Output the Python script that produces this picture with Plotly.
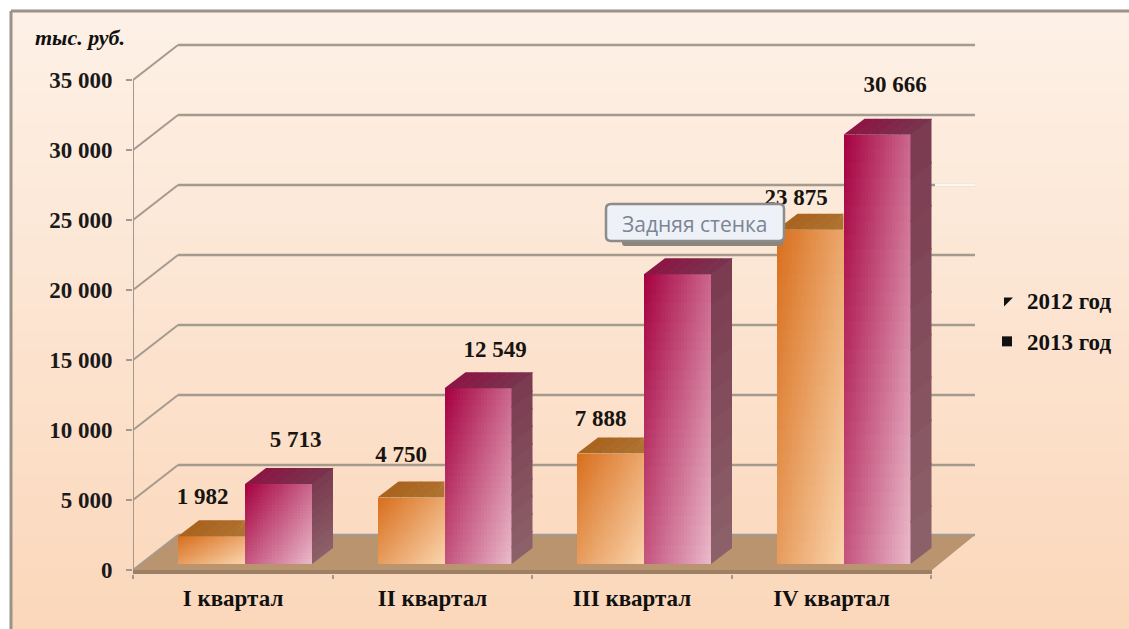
import plotly.graph_objects as go

# ---- data ----
quarters = ["I квартал", "II квартал", "III квартал", "IV квартал"]
values_2012 = [1982, 4750, 7888, 23875]
values_2013 = [5713, 12549, 20700, 30666]
labels_2012 = ["1 982", "4 750", "7 888", "23 875"]
labels_2013 = ["5 713", "12 549", "", "30 666"]
y_ticks = [0, 5000, 10000, 15000, 20000, 25000, 30000, 35000]
y_tick_text = ["0", "5 000", "10 000", "15 000", "20 000", "25 000", "30 000", "35 000"]
series_names = ["2012 год", "2013 год"]

# ---- geometry of the pseudo-3D scene (pixels) ----
W, H = 1129, 629
PL, PR, PT, PB = 133, 975, 40, 574      # plot area
Y0 = 570                                # pixel of value 0
PX_PER_UNIT = 0.014
CAT0, CAT_STEP = 233, 199.5             # pixel of category 0, pixels per category
BAR_W = 67
BAR_BASE_PX = 6                         # bar bottoms sit above the axis line
BAR_DX, BAR_DY = 21, 16                 # bar depth
WALL_DX, WALL_DY = 45, 35               # wall depth
BAR_OFF = [-21.5, 45.5]                 # bar centre relative to category pixel

def ux(dpx):
    return dpx / CAT_STEP

def uy(dpy):
    return dpy / PX_PER_UNIT

def dx(px):
    return (px - CAT0) / CAT_STEP

def dy(py):
    return (Y0 - py) / PX_PER_UNIT

def paper_x(px):
    return (px - PL) / (PR - PL)

def paper_y(py):
    return (PB - py) / (PB - PT)

def mix(a, b, t):
    t = max(0, min(1, t))
    return "rgb(%d,%d,%d)" % tuple(round(a[i] + (b[i] - a[i]) * t) for i in range(3))

ORANGE = ((216, 110, 28), (250, 212, 172))
MAROON = ((165, 0, 63), (234, 186, 202))
TOP = [((168, 98, 30), (176, 116, 50)), ((140, 20, 68), (120, 52, 78))]
SIDE = [((150, 90, 40), (170, 120, 70)), ((122, 58, 80), (140, 98, 106))]
base_val = uy(BAR_BASE_PX)

fig = go.Figure()

def add_bars(vals, off, grad):
    xs, bases, hs, ws, cols = [], [], [], [], []
    n_c, n_r = 22, 30
    for i, v in enumerate(vals):
        cx = i + ux(off)
        left = cx - ux(BAR_W) / 2
        for c in range(n_c):
            cw = ux(BAR_W) / n_c
            for r in range(n_r):
                rh = v / n_r
                # overlap neighbouring cells a little to hide seams
                wid = cw + (ux(0.5) if c < n_c - 1 else 0)
                hei = rh + (uy(0.5) if r < n_r - 1 else 0)
                xs.append(left + c * cw + wid / 2)
                bases.append(base_val + v - (r + 1) * rh - (uy(0.5) if r < n_r - 1 else 0))
                hs.append(hei)
                ws.append(wid)
                u_ = (c + 0.5) / n_c
                v_ = (r + 0.5) / n_r
                cols.append(mix(grad[0], grad[1], 0.55 * u_ + 0.45 * v_))
    fig.add_trace(go.Bar(x=xs, y=hs, base=bases, width=ws, marker=dict(color=cols, line=dict(width=0)),
                         showlegend=False, hoverinfo="skip"))

def poly(xs, ys, color):
    fig.add_trace(go.Scatter(x=xs, y=ys, mode="lines", fill="toself", fillcolor=color,
                             line=dict(width=0), showlegend=False, hoverinfo="skip"))

def add_faces(vals, off, s):
    for i, v in enumerate(vals):
        cx = i + ux(off)
        l, rr = cx - ux(BAR_W) / 2, cx + ux(BAR_W) / 2
        top = base_val + v
        if s == 1:
            # painted from the bottom up, each band reaching over the seam below it
            n = 10
            for k in reversed(range(n)):
                a = top - v * k / n
                b = top - v * (k + 1) / n
                if k < n - 1:
                    b -= uy(2)
                poly([rr, rr + ux(BAR_DX), rr + ux(BAR_DX), rr],
                     [a, a + uy(BAR_DY), b + uy(BAR_DY), b],
                     mix(SIDE[s][0], SIDE[s][1], (k + 0.5) / n))
        n = 6
        for k in range(n):
            x_a = l + (rr - l) * k / n
            x_b = l + (rr - l) * (k + 1) / n + ux(0.8)
            xs = [x_a, x_a + ux(BAR_DX), x_b + ux(BAR_DX), x_b]
            ys = [top, top + uy(BAR_DY), top + uy(BAR_DY), top]
            if s == 0:
                # the 2012 top face stops where the 2013 bar begins
                xs = [min(q, rr) for q in xs]
            poly(xs, ys, mix(TOP[s][0], TOP[s][1], (k + 0.5) / n))

add_bars(values_2012, BAR_OFF[0], ORANGE)
add_bars(values_2013, BAR_OFF[1], MAROON)
add_faces(values_2012, BAR_OFF[0], 0)
add_faces(values_2013, BAR_OFF[1], 1)

# data labels (real text, anchored on bar values)
LABEL_OFF_2012 = [(-9, 38), (-10, 41), (-10, 33), (-14, 31)]
LABEL_OFF_2013 = [(17, 43), (17, 37), (0, 0), (18, 48)]
for vals, off, labs, offs in [(values_2012, BAR_OFF[0], labels_2012, LABEL_OFF_2012),
                              (values_2013, BAR_OFF[1], labels_2013, LABEL_OFF_2013)]:
    fig.add_trace(go.Scatter(
        x=[i + ux(off + offs[i][0]) for i in range(4)],
        y=[base_val + v + uy(offs[i][1]) for i, v in enumerate(vals)],
        text=labs, mode="text", textposition="middle center", showlegend=False, hoverinfo="skip",
        textfont=dict(family="Liberation Serif", size=23, color="#181410", weight="bold")))

# legend entries
for name, sym, size in zip(series_names, ["triangle-nw", "square"], [10, 10]):
    fig.add_trace(go.Scatter(x=[None], y=[None], mode="markers", name=name, legendgroup=name,
                             marker=dict(symbol=sym, size=size, color="#111111")))

# ---- shapes ----
shapes = []
# page gradient
TOP_BG, BOT_BG = (253, 241, 231), (251, 215, 186)
n_bg = 60
y_start, y_end = 10, H
for k in range(n_bg):
    a = y_start + (y_end - y_start) * k / n_bg
    b = y_start + (y_end - y_start) * (k + 1) / n_bg + 1
    shapes.append(dict(type="rect", xref="paper", yref="paper", layer="below",
                       x0=paper_x(11), x1=paper_x(W + 2), y0=paper_y(a), y1=paper_y(b),
                       fillcolor=mix(TOP_BG, BOT_BG, (k + 0.5) / n_bg), line=dict(width=0)))
# outer frame (top + left)
FRAME = "#9b9289"
shapes.append(dict(type="line", xref="paper", yref="paper", layer="below",
                   x0=paper_x(11), x1=paper_x(W + 2), y0=paper_y(11), y1=paper_y(11),
                   line=dict(color=FRAME, width=3)))
shapes.append(dict(type="line", xref="paper", yref="paper", layer="below",
                   x0=paper_x(11), x1=paper_x(11), y0=paper_y(11), y1=paper_y(H + 2),
                   line=dict(color=FRAME, width=3)))

# floor
shapes.append(dict(type="path", xref="x", yref="y", layer="below",
                   path="M %f,%f L %f,%f L %f,%f L %f,%f Z" % (
                       dx(PL), dy(Y0), dx(PL + WALL_DX), dy(Y0 - WALL_DY),
                       dx(PR), dy(Y0 - WALL_DY), dx(PR - WALL_DX + 2), dy(Y0)),
                   fillcolor="#b9946f", line=dict(width=0)))
# wall grid
GRID = "#a59a8e"
for t in y_ticks:
    sy = t + uy(WALL_DY)
    shapes.append(dict(type="line", xref="x", yref="y", layer="below",
                       x0=dx(PL), y0=t, x1=dx(PL + WALL_DX), y1=sy,
                       line=dict(color=GRID, width=2)))
    shapes.append(dict(type="line", xref="x", yref="y", layer="below",
                       x0=dx(PL + WALL_DX), y0=sy, x1=dx(PR), y1=sy,
                       line=dict(color=GRID, width=2.5)))
# white fleck of the 25 000 grid line, right of the last bar
shapes.append(dict(type="line", xref="x", yref="y", layer="below",
                   x0=dx(935), y0=25000 + uy(WALL_DY), x1=dx(PR), y1=25000 + uy(WALL_DY),
                   line=dict(color="#fbf6f0", width=3)))
# vertical axis and front axis band
shapes.append(dict(type="line", xref="x", yref="y", layer="below",
                   x0=dx(PL), x1=dx(PL), y0=0, y1=35000, line=dict(color="#a3988d", width=2)))
shapes.append(dict(type="line", xref="x", yref="y", layer="below",
                   x0=dx(PL), x1=dx(PR - WALL_DX + 2), y0=-uy(2), y1=-uy(2),
                   line=dict(color="#9c8066", width=4)))

# tooltip (shadow + rounded box), above the traces so it covers "23 875"
def rrect(x0, y0, x1, y1, r):
    X0, X1 = paper_x(x0), paper_x(x1)
    Y0_, Y1_ = paper_y(y0), paper_y(y1)
    rx, ry = r / (PR - PL), r / (PB - PT)
    return ("M %f,%f L %f,%f Q %f,%f %f,%f L %f,%f Q %f,%f %f,%f L %f,%f Q %f,%f %f,%f L %f,%f Q %f,%f %f,%f Z" % (
        X0 + rx, Y0_, X1 - rx, Y0_, X1, Y0_, X1, Y0_ - ry, X1, Y1_ + ry, X1, Y1_, X1 - rx, Y1_,
        X0 + rx, Y1_, X0, Y1_, X0, Y1_ + ry, X0, Y0_ - ry, X0, Y0_, X0 + rx, Y0_))

shapes.append(dict(type="path", xref="paper", yref="paper", layer="above",
                   path=rrect(622, 215, 783, 246, 3), fillcolor="#8d857c", line=dict(width=0)))
shapes.append(dict(type="path", xref="paper", yref="paper", layer="above",
                   path=rrect(606, 204, 784, 241, 5), fillcolor="#eef1f8",
                   line=dict(color="#8e8c8a", width=2.5)))

annotations = [
    dict(text="<b><i>тыс. руб.</i></b>", xref="paper", yref="paper", x=paper_x(80), y=paper_y(37),
         showarrow=False, xanchor="center", yanchor="middle",
         font=dict(family="Liberation Serif", size=22, color="#111111")),
    dict(text="Задняя стенка", xref="paper", yref="paper", x=paper_x(695), y=paper_y(224),
         showarrow=False, xanchor="center", yanchor="middle",
         font=dict(family="Open Sans", size=21, color="#7c8593")),
]

fig.update_layout(
    width=W, height=H,
    margin=dict(l=PL, r=W - PR, t=PT, b=H - PB, autoexpand=False),
    paper_bgcolor="white", plot_bgcolor="rgba(0,0,0,0)",
    barmode="overlay", bargap=0,
    shapes=shapes, annotations=annotations,
    legend=dict(x=paper_x(987), y=paper_y(279), xanchor="left", yanchor="top",
                bgcolor="rgba(0,0,0,0)", tracegroupgap=8, traceorder="grouped",
                font=dict(family="Liberation Serif", size=23, color="#111111", weight="bold"),
                itemclick=False),
    xaxis=dict(range=[dx(PL), dx(PR)], showgrid=False, zeroline=False, showline=False,
               tickmode="array", tickvals=list(range(4)), ticktext=quarters, ticks="",
               ticklabelstandoff=8,
               tickfont=dict(family="Liberation Serif", size=23, color="#111111", weight="bold"),
               minor=dict(tickmode="array", tickvals=[i - 0.5 for i in range(5)], ticks="outside",
                          ticklen=4, tickcolor="#a3988d", tickwidth=2, showgrid=False)),
    yaxis=dict(range=[dy(PB), dy(PT)], showgrid=False, zeroline=False, showline=False,
               tickmode="array", tickvals=y_ticks, ticktext=y_tick_text, ticks="outside",
               ticklen=6, tickcolor="#a3988d", tickwidth=2, ticklabelstandoff=9,
               tickfont=dict(family="Liberation Serif", size=23, color="#1a1a1a", weight="bold")),
)
fig.write_html("out.html", post_script="document.body.style.margin='0';",
               config={"displayModeBar": False})
